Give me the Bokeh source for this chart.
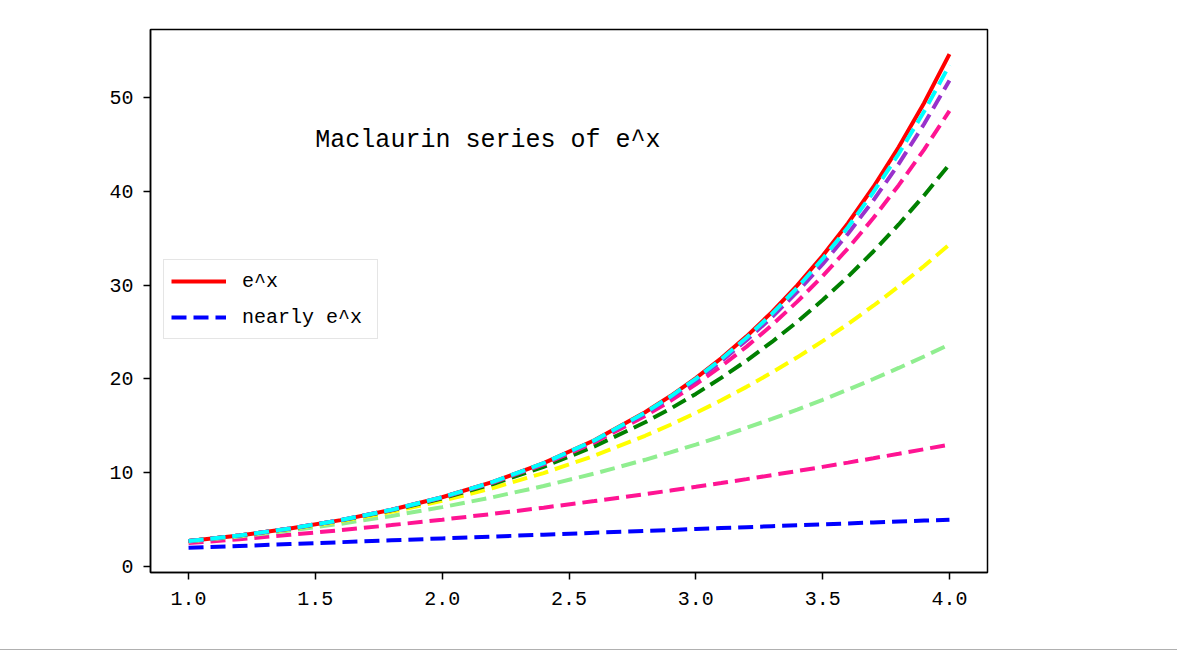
from bokeh.plotting import figure
from bokeh.models import Range1d, FixedTicker, NumeralTickFormatter, Legend, LegendItem, Label, Div
from bokeh.layouts import column
from bokeh.embed import file_html
from bokeh.resources import INLINE

# x sample positions (denser where the curves are steep)
xs = [1.0, 1.2, 1.4, 1.6, 1.8, 2.0, 2.2, 2.4, 2.6, 2.8, 2.9, 3.0, 3.1, 3.2, 3.3, 3.4, 3.5,
      3.6, 3.7, 3.8, 3.9, 4.0]

# exact curve e^x
exp_vals = [2.7183, 3.3201, 4.0552, 4.9530, 6.0496, 7.3891, 9.0250, 11.0232, 13.4637, 16.4446,
            18.1741, 20.0855, 22.1980, 24.5325, 27.1126, 29.9641, 33.1155, 36.5982, 40.4473,
            44.7012, 49.4024, 54.5982]

# partial sums of the Maclaurin series (order 1..8)
s1 = [2.0, 2.2, 2.4, 2.6, 2.8, 3.0, 3.2, 3.4, 3.6, 3.8, 3.9, 4.0, 4.1, 4.2, 4.3, 4.4, 4.5,
      4.6, 4.7, 4.8, 4.9, 5.0]
s2 = [2.5, 2.92, 3.38, 3.88, 4.42, 5.0, 5.62, 6.28, 6.98, 7.72, 8.105, 8.5, 8.905, 9.32, 9.745,
      10.18, 10.625, 11.08, 11.545, 12.02, 12.505, 13.0]
s3 = [2.6667, 3.208, 3.8373, 4.5627, 5.392, 6.3333, 7.3947, 8.584, 9.9093, 11.3787, 12.1698,
      13.0, 13.8702, 14.7813, 15.7345, 16.7307, 17.7708, 18.856, 19.9872, 21.1653, 22.3915,
      23.6667]
s4 = [2.7083, 3.2944, 3.9974, 4.8357, 5.8294, 7.0, 8.3707, 9.9664, 11.8134, 13.9397, 15.1168,
      16.375, 17.7182, 19.1504, 20.6758, 22.2987, 24.0234, 25.8544, 27.7962, 29.8534, 32.0308,
      34.3333]
s5 = [2.7167, 3.3151, 4.0422, 4.9231, 5.9869, 7.2667, 8.8002, 10.63, 12.8035, 15.3739, 16.8261,
      18.4, 20.1039, 21.9466, 23.9371, 26.085, 28.4003, 30.8932, 33.5748, 36.4563, 39.5495,
      42.8667]
s6 = [2.7181, 3.3193, 4.0527, 4.9464, 6.0341, 7.3556, 8.9577, 10.8954, 13.2326, 16.0432,
      17.6523, 19.4125, 21.3366, 23.4379, 25.7308, 28.2306, 30.9534, 33.9166, 37.1384, 40.6382,
      44.4367, 48.5556]
s7 = [2.7183, 3.32, 4.0548, 4.9517, 6.0463, 7.381, 9.0072, 10.9864, 13.3919, 16.3109, 17.9945,
      19.8464, 21.8825, 24.1197, 26.5764, 29.2727, 32.23, 35.4714, 39.0219, 42.9083, 47.1595,
      51.8063]
s8 = [2.7183, 3.3201, 4.0551, 4.9528, 6.049, 7.3873, 9.0208, 11.0137, 13.4437, 16.4046, 18.1186,
      20.0092, 22.094, 24.3924, 26.9252, 29.7156, 32.7885, 36.1711, 39.8931, 43.9866, 48.4869,
      53.4317]

partial_sums = [s1, s2, s3, s4, s5, s6, s7, s8]
dash_colors = ["#0000ff", "#ff1493", "#90ee90", "#ffff00", "#008000", "#ff1493", "#9932cc", "#00ffff"]

x_ticks = [1.0, 1.5, 2.0, 2.5, 3.0, 3.5, 4.0]
y_ticks = [0, 10, 20, 30, 40, 50]

title_text = "Maclaurin series of e^x"
legend_labels = ["e^x", "nearly e^x"]

FONT = "Liberation Mono"

p = figure(width=1177, height=649, output_backend="svg", toolbar_location=None,
           x_range=Range1d(0.85, 4.15), y_range=Range1d(-0.63, 57.23),
           min_border_left=150, min_border_right=190, min_border_top=29, min_border_bottom=77)
p.background_fill_color = "white"
p.border_fill_color = "white"
p.xgrid.visible = False
p.ygrid.visible = False
p.outline_line_color = "black"
p.outline_line_width = 1.5
p.outline_line_alpha = 1.0

for ax in (p.xaxis, p.yaxis):
    ax.axis_line_color = "black"
    ax.axis_line_width = 1.5
    ax.major_tick_line_color = "black"
    ax.major_tick_line_width = 1.5
    ax.major_tick_out = 7
    ax.major_tick_in = 0
    ax.minor_tick_line_color = None
    ax.major_label_text_font = FONT
    ax.major_label_text_font_size = "20px"
    ax.major_label_text_color = "black"

p.xaxis.ticker = FixedTicker(ticks=x_ticks)
p.yaxis.ticker = FixedTicker(ticks=y_ticks)
p.xaxis.formatter = NumeralTickFormatter(format="0.0")
p.xaxis.major_label_standoff = 12
p.yaxis.major_label_standoff = 10

r_exp = p.line(xs, exp_vals, line_color="#ff0000", line_width=4)
dash_renderers = []
for vals, col in zip(partial_sums, dash_colors):
    r = p.line(xs, vals, line_color=col, line_width=4, line_dash="15 7")
    dash_renderers.append(r)

p.add_layout(Label(x=1.5, y=45.4, text=title_text, text_font=FONT, text_font_size="25px",
                   text_color="black", text_baseline="alphabetic", text_align="left"))

legend = Legend(items=[LegendItem(label=legend_labels[0], renderers=[r_exp]),
                       LegendItem(label=legend_labels[1], renderers=[dash_renderers[0]])],
                location=(13, 233))
legend.label_text_font = FONT
legend.label_text_font_size = "20px"
legend.label_text_color = "black"
legend.glyph_width = 55
legend.glyph_height = 28
legend.label_height = 28
legend.label_width = 128
legend.label_standoff = 16
legend.spacing = 8
legend.padding = 7
legend.margin = 0
legend.border_line_color = "#cccccc"
legend.border_line_width = 1.5
legend.background_fill_color = "white"
legend.background_fill_alpha = 0.8
p.add_layout(legend)

rule = Div(text="", width=1177, height=1, styles={"border-top": "1px solid #b0b0b0", "margin": "0"})
layout = column(p, rule, spacing=0)

open("out.html", "w").write(file_html(layout, INLINE))
